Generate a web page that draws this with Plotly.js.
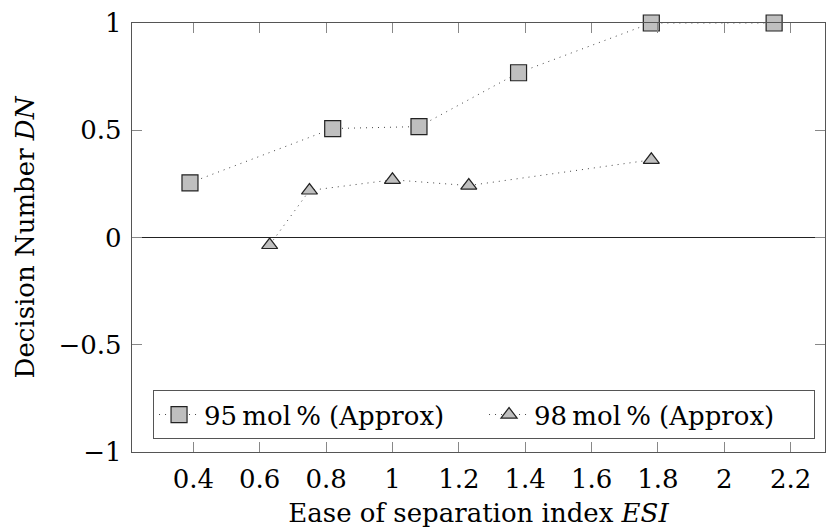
<!DOCTYPE html>
<html>
<head>
<meta charset="utf-8">
<script src="https://cdn.plot.ly/plotly-3.0.1.min.js"></script>
<style>html,body{margin:0;padding:0;background:#fff;}#chart{width:826px;height:531px;}</style>
</head>
<body>
<div id="chart"></div>
<script>
// Data
const esi95 = [0.39, 0.82, 1.08, 1.38, 1.78, 2.15];
const dn95  = [0.255, 0.508, 0.517, 0.768, 1.0, 1.0];
const esi98 = [0.63, 0.75, 1.0, 1.23, 1.78];
const dn98  = [-0.035, 0.219, 0.269, 0.242, 0.362];
const name95 = "95\u2009mol\u2009% (Approx)";
const name98 = "98\u2009mol\u2009% (Approx)";
const xTickVals = [0.4, 0.6, 0.8, 1, 1.2, 1.4, 1.6, 1.8, 2, 2.2];
const xTickText = ["0.4", "0.6", "0.8", "1", "1.2", "1.4", "1.6", "1.8", "2", "2.2"];
const yTickVals = [-1, -0.5, 0, 0.5, 1];
const yTickText = ["\u22121", "\u22120.5", "0", "0.5", "1"];

const FONT = "'DejaVu Serif', serif";
const FS = 26;
const lineStyle = {color: "#444", width: 1, dash: "1px,5px"};

const traces = [
  {x: esi95, y: dn95, name: name95, type: "scatter", mode: "lines+markers",
   line: lineStyle, cliponaxis: false,
   marker: {symbol: "square", size: 16, color: "#bfbfbf", line: {color: "#222", width: 1.2}}},
  {x: esi98, y: dn98, name: name98, type: "scatter", mode: "lines+markers",
   line: lineStyle, cliponaxis: false,
   marker: {symbol: "triangle-up", size: 14, color: "#bfbfbf", line: {color: "#222", width: 1.2}}}
];

const layout = {
  width: 826, height: 531,
  margin: {l: 132, r: 1, t: 23, b: 79},
  paper_bgcolor: "#fff", plot_bgcolor: "#fff",
  font: {family: FONT, size: FS, color: "#000"},
  showlegend: true,
  legend: {orientation: "h", x: 0.508, xanchor: "center", y: 0.03, yanchor: "bottom",
           bgcolor: "#fff", bordercolor: "#555", borderwidth: 1,
           font: {family: FONT, size: FS, color: "#000"}, itemwidth: 40,
           entrywidth: 275, entrywidthmode: "pixels"},
  xaxis: {range: [0.2153, 2.3033], tickvals: xTickVals, ticktext: xTickText,
          showline: true, linecolor: "#555", linewidth: 1.2, mirror: "ticks",
          ticks: "inside", ticklen: 10, tickcolor: "#888", tickwidth: 1,
          showgrid: false, zeroline: false, ticklabelstandoff: 4,
          title: {text: "Ease of separation index <i>ESI</i>", font: {family: FONT, size: FS}, standoff: 10}},
  yaxis: {range: [-1, 1], tickvals: yTickVals, ticktext: yTickText,
          showline: true, linecolor: "#555", linewidth: 1.2, mirror: "ticks",
          ticks: "inside", ticklen: 10, tickcolor: "#888", tickwidth: 1,
          showgrid: false, zeroline: true, zerolinecolor: "#222", zerolinewidth: 1.2,
          ticklabelstandoff: 4,
          title: {text: "Decision Number <i>DN</i>", font: {family: FONT, size: FS}, standoff: 16}}
};

Plotly.newPlot("chart", traces, layout, {displayModeBar: false, staticPlot: true});
</script>
</body>
</html>
